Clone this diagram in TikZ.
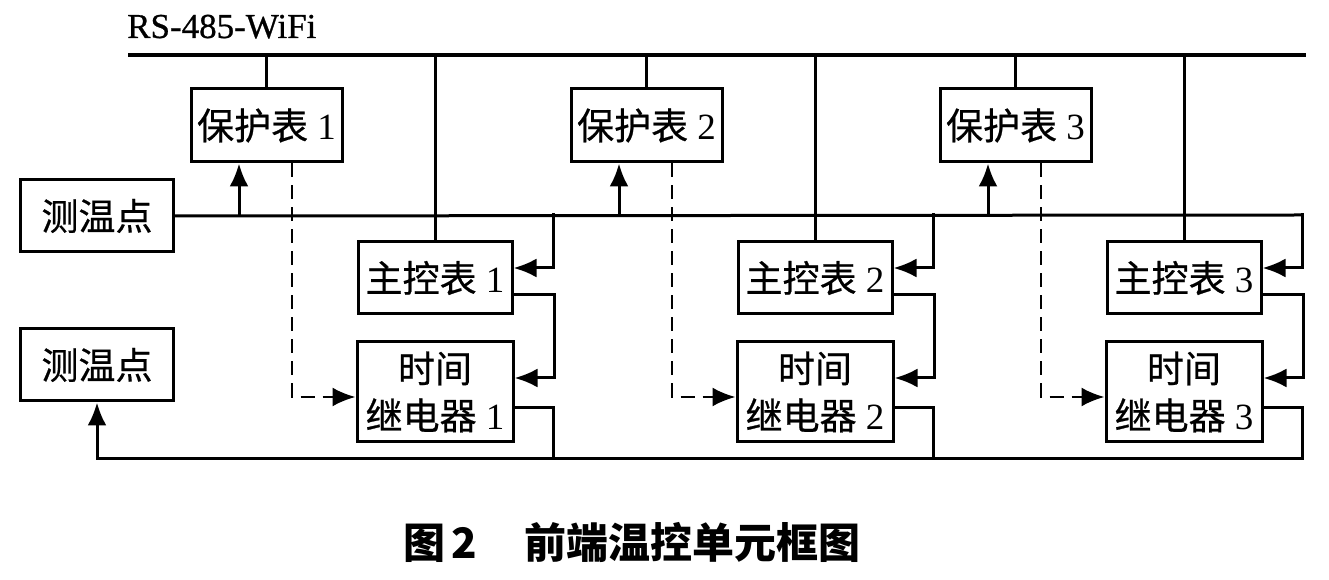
\documentclass[tikz,border=0pt]{standalone}
\usepackage{fontspec}
\setmainfont{Liberation Serif}
\newfontfamily\cjk{Noto Sans CJK SC}
\newfontfamily\cjkt[FakeBold=0.6]{Noto Sans CJK SC}
\newfontfamily\rsfont[FakeBold=0.8]{Liberation Serif}
\usetikzlibrary{arrows.meta}
\tikzset{
  box/.style={draw,line width=3pt,minimum width=153pt,minimum height=72pt,inner sep=0pt,font=\fontsize{37}{47}\selectfont},
  wire/.style={line width=3pt,line cap=rect},
  arr/.style={wire,-{Latex[length=23pt,width=19pt]}},
  dash line/.style={line width=2.6pt,dash pattern=on 14pt off 8pt,-{Latex[length=23pt,width=19pt]}},
}
\begin{document}
\begin{tikzpicture}[x=1pt,y=1pt]
\useasboundingbox (0,0) rectangle (1329,580);
\node[anchor=base west,inner sep=0pt,font=\rsfont\fontsize{35}{40}\selectfont] (rs) at (127,542) {RS-485-WiFi};
\coordinate (busl) at (128,525);
\coordinate (busr) at (1306,525);
\draw[line width=3.4pt] (busl) -- (busr);
\node[box] (s) at (97,364) {{\cjkt 测温点}};
\node[box] (s') at (97,215) {{\cjkt 测温点}};
\coordinate (r3) at (1302,365);
\draw[wire] (s.east) -- (r3);
\foreach \i/\x in {1/0,2/380,3/749}{
  \node[box,minimum width=151pt,minimum height=73pt] (p\i) at (266.5+\x,454.5) {{\cjkt 保护表} \i};
  \node[box,minimum width=154pt] (m\i) at (435+\x,302) {{\cjkt 主控表} \i};
  \node[box,minimum width=156pt,minimum height=100pt,align=center] (t\i) at (435+\x,188) {{\cjkt 时间}\\{\cjkt 继电器} \i};
  \coordinate (r\i) at (553+\x,365);
  \coordinate (b\i) at (553+\x,121);
  \draw[wire] (p\i.north) -- (p\i.north |- busl);
  \draw[wire] (m\i.north) -- (m\i.north |- busl);
  \draw[arr] ([xshift=-27.5pt]p\i.south |- s.east) -- ([xshift=-27.5pt]p\i.south);
  \draw[dash line] ([xshift=25.5pt]p\i.south) |- ([yshift=-5pt]t\i.west);
  \draw[arr] (r\i) |- ([yshift=10pt]m\i.east);
  \draw[arr] ([yshift=-17pt]m\i.east) -- ++(41,0) |- ([yshift=14pt]t\i.east);
  \draw[wire] ([yshift=-16pt]t\i.east) -| (b\i);
}
\draw[arr] (b3) -| (s'.south);
\node[anchor=base,inner sep=0pt,font=\cjk\bfseries\fontsize{42}{42}\selectfont] (cap) at (632,21)
  {图\hspace{6pt}2\hspace{47pt}前端温控单元框图};
\end{tikzpicture}
\end{document}
